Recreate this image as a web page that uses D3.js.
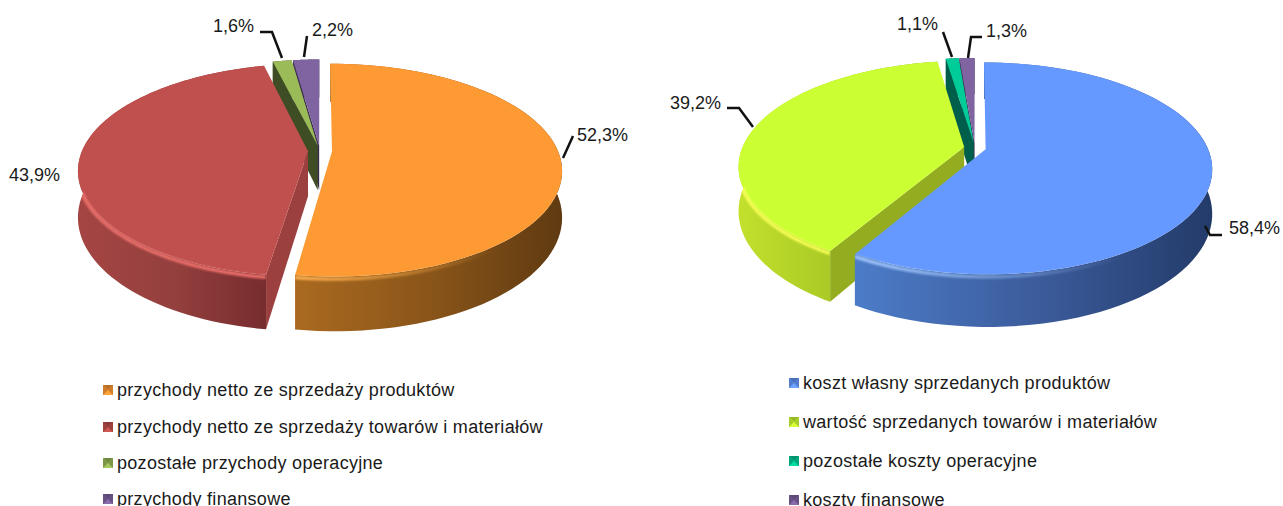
<!DOCTYPE html>
<html lang="pl">
<head>
<meta charset="utf-8">
<script type="text/javascript" src="https://d3js.org/d3.v7.min.js"></script>
<style>
  body { margin: 0; background: #fff; }
  text { font-family: "Liberation Sans", Arial, sans-serif; fill: #1a1a1a; }
</style>
</head>
<body>
<div id="chart"></div>
<script type="text/javascript">
  const leftCategories = ["przychody netto ze sprzedaży produktów", "przychody netto ze sprzedaży towarów i materiałów", "pozostałe przychody operacyjne", "przychody finansowe"]
  const leftValues = [52.3, 43.9, 1.6, 2.2]
  const rightCategories = ["koszt własny sprzedanych produktów", "wartość sprzedanych towarów i materiałów", "pozostałe koszty operacyjne", "koszty finansowe"]
  const rightValues = [58.4, 39.2, 1.1, 1.3]

  const w = 1283, h = 506
  const fmt = v => d3.format(".1f")(v).replace(".", ",") + "%"

  // styling of the slices: top face, bevel, cut wall, rim gradient left->right
  const leftStyle = [
    {top: "#fe9a34", bevel: "#ffb04f", wall: "#a0641f", rim: ["#aa6a20", "#8a5519", "#5f3a11"]},
    {top: "#c0504d", bevel: "#ec6f6b", wall: "#9b3f3f", rim: ["#a54543", "#94403e", "#772c2e"]},
    {top: "#9bbb59", bevel: "#9bbb59", wall: "#3f4d24", rim: ["#3f4d24", "#3f4d24", "#3f4d24"]},
    {top: "#8064a2", bevel: "#8064a2", wall: "#3b2d50", rim: ["#3b2d50", "#3b2d50", "#3b2d50"]}
  ]
  const rightStyle = [
    {top: "#6699ff", bevel: "#a4c8ff", wall: "#4a76c4", rim: ["#4c7cc8", "#3c5c9c", "#233b69"]},
    {top: "#ccff33", bevel: "#f8ff55", wall: "#94ad20", rim: ["#c2e02c", "#a8c826", "#94ad20"]},
    {top: "#00cc99", bevel: "#00cc99", wall: "#005f4a", rim: ["#005f4a", "#005f4a", "#005f4a"]},
    {top: "#8064a2", bevel: "#8064a2", wall: "#3b2d50", rim: ["#3b2d50", "#3b2d50", "#3b2d50"]}
  ]

  // layout of both pies; k is the perspective strength
  const leftPie = {cx: 320, cy: 151, rx: 226, ry: 103, k: 0.176, depth: 45, explode: 12,
    categories: leftCategories, values: leftValues, style: leftStyle,
    labels: [[577, 141], [9, 181], [213, 32], [312, 36]],
    leaders: [[[573, 136], [563, 158]], [], [[260, 32], [272, 32], [282, 58]], [[307, 36], [304, 57]]],
    legend: {x: 103, textX: 117, y: [390, 427, 463, 499]}}
  const rightPie = {cx: 975, cy: 148, rx: 222, ry: 102, k: 0.18, depth: 43, explode: 11,
    categories: rightCategories, values: rightValues, style: rightStyle,
    labels: [[1229, 234], [670, 109], [897, 30], [986, 37]],
    leaders: [[[1205, 226], [1210, 235], [1222, 235]], [[727, 108], [739, 108], [753, 127]], [[943, 32], [952, 57]], [[968, 58], [971, 37], [982, 37]]],
    legend: {x: 789, textX: 803, y: [383, 422, 461, 500]}}

  const svg = d3.select("#chart").append("svg")
    .attr("width", w).attr("height", h)
    .style("display", "block")
  const defs = svg.append("defs")
  defs.append("filter").attr("id", "soft").append("feGaussianBlur").attr("stdDeviation", 0.8)

  const line = d3.line()

  function drawPie(pie, id) {
    const xs = d3.scaleLinear().domain([-1, 1]).range([pie.cx - pie.rx, pie.cx + pie.rx])
    const ys = d3.scaleLinear().domain([-1, 1]).range([pie.cy - pie.ry, pie.cy + pie.ry])
    const arcs = d3.pie().sort(null).value(d => d)(pie.values)

    // point on the tilted disc: r along angle a, lowered by drop, slice pushed out along its middle
    const project = (d, r, a, drop) => {
      const mid = (d.startAngle + d.endAngle) / 2
      const e = pie.explode / pie.rx
      const u = r * Math.sin(a) + e * Math.sin(mid)
      const v = -r * Math.cos(a) - e * Math.cos(mid)
      const p = 1 - pie.k * v
      return [xs(u / p), ys(v / p) + drop / p]
    }
    const arcPoints = (d, from, to, drop) =>
      d3.range(0, 81).map(i => project(d, 1, from + (to - from) * i / 80, drop))

    // small slices first, the big ones cover them
    d3.range(arcs.length - 1, -1, -1).forEach(i => {
      const d = arcs[i]
      const st = pie.style[i]
      const g = svg.append("g")

      if (i > 0) {
        const wall = [project(d, 0, d.startAngle, 0), project(d, 1, d.startAngle, 0),
                      project(d, 1, d.startAngle, pie.depth), project(d, 0, d.startAngle, pie.depth)]
        g.append("path").attr("d", line(wall) + "Z").attr("fill", st.wall)
      }

      const top = arcPoints(d, d.startAngle, d.endAngle, 0)
      const bottom = arcPoints(d, d.startAngle, d.endAngle, pie.depth)
      const gid = `rim-${id}-${i}`
      const ext = d3.extent(top, p => p[0])
      const grad = defs.append("linearGradient").attr("id", gid)
        .attr("gradientUnits", "userSpaceOnUse")
        .attr("x1", ext[0]).attr("x2", ext[1]).attr("y1", 0).attr("y2", 0)
      st.rim.forEach((c, j) => grad.append("stop").attr("offset", j / 2).attr("stop-color", c))
      const rimPath = line(top.concat(bottom.slice().reverse())) + "Z"
      g.append("path").attr("d", rimPath).attr("fill", `url(#${gid})`)

      const apex = project(d, 0, d.startAngle, 0)
      const topPath = line([apex].concat(top)) + "Z"
      g.append("path").attr("d", topPath).attr("fill", st.top)

      // soft highlight along the front edge, kept inside the slice
      if (i < 2) {
        const cid = `clip-${id}-${i}`
        const clip = defs.append("clipPath").attr("id", cid)
        clip.append("path").attr("d", rimPath)
        clip.append("path").attr("d", topPath)
        // first slice: the light fades out towards the right
        const from = Math.max(d.startAngle, i == 0 ? Math.PI * 0.7 : Math.PI / 2)
        const to = Math.min(d.endAngle, Math.PI * 1.55)
        const fid = `bevel-${id}-${i}`
        const fade = defs.append("linearGradient").attr("id", fid)
          .attr("gradientUnits", "userSpaceOnUse")
          .attr("x1", ext[0]).attr("x2", ext[1]).attr("y1", 0).attr("y2", 0)
        fade.append("stop").attr("offset", 0).attr("stop-color", st.bevel).attr("stop-opacity", 1)
        fade.append("stop").attr("offset", i == 0 ? 0.75 : 1).attr("stop-color", st.bevel).attr("stop-opacity", i == 0 ? 0 : 1)
        g.append("g").attr("clip-path", `url(#${cid})`)
          .append("path").attr("d", line(arcPoints(d, from, to, 2)))
          .attr("fill", "none").attr("stroke", `url(#${fid})`).attr("stroke-width", 3.5)
          .attr("filter", "url(#soft)")
      }
    })

    // value labels and leader lines
    pie.values.forEach((v, i) => {
      svg.append("text").attr("x", pie.labels[i][0]).attr("y", pie.labels[i][1])
        .attr("font-size", 18).text(fmt(v))
      if (pie.leaders[i].length)
        svg.append("path").attr("d", line(pie.leaders[i]))
          .attr("fill", "none").attr("stroke", "#111").attr("stroke-width", 2.5)
    })

    // legend with bevelled markers
    pie.categories.forEach((c, i) => {
      const x = pie.legend.x, y = pie.legend.y[i] - 5, s = 10
      const base = d3.color(pie.style[i].top)
      const g = svg.append("g").attr("transform", `translate(${x},${y})`)
      g.append("rect").attr("width", s).attr("height", s).attr("fill", base.brighter(0.2))
      g.append("path").attr("d", `M0,0H${s}L${s / 2},${s / 2}Z`).attr("fill", base.darker(0.9))
      g.append("path").attr("d", `M0,0V${s}L${s / 2},${s / 2}Z`).attr("fill", base.darker(0.6))
      g.append("path").attr("d", `M${s},0V${s}L${s / 2},${s / 2}Z`).attr("fill", base.darker(0.6))
      svg.append("text").attr("x", pie.legend.textX).attr("y", pie.legend.y[i] + 6)
        .attr("font-size", 18).attr("letter-spacing", 0.3).text(c)
    })
  }

  drawPie(leftPie, "l")
  drawPie(rightPie, "r")
</script>
</body>
</html>
